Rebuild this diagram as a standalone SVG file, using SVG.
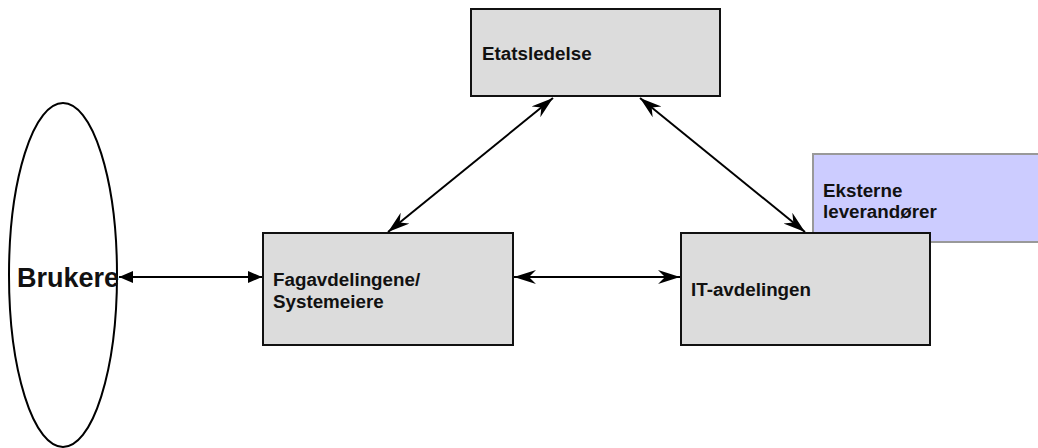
<svg xmlns="http://www.w3.org/2000/svg" width="1038" height="448" viewBox="0 0 1038 448">
  <style>
    .box { fill: #dcdcdc; stroke: #111; stroke-width: 2; }
    .ext { fill: #ccccff; stroke: #999; stroke-width: 2; }
    .lbl { font-family: "Liberation Sans", Arial, sans-serif; font-weight: bold; font-size: 18.8px; fill: #111; }
    .big { font-size: 27px; }
    .edge { stroke: #000; stroke-width: 2; fill: none; }
  </style>
  <defs>
    <marker id="barb" markerUnits="userSpaceOnUse" markerWidth="24" markerHeight="16" refX="22" refY="7" orient="auto-start-reverse">
      <path d="M0,0 L22,7 L0,14 L7,7 z" fill="#000"/>
    </marker>
    <marker id="tri" markerUnits="userSpaceOnUse" markerWidth="16" markerHeight="14" refX="14" refY="6" orient="auto-start-reverse">
      <path d="M0,0 L14,6 L0,12 z" fill="#000"/>
    </marker>
  </defs>

  <g id="eksterne">
    <rect class="ext" x="813" y="154" width="240" height="88"/>
    <text class="lbl" x="823" y="197">Eksterne</text>
    <text class="lbl" x="823" y="218">leverandører</text>
  </g>

  <g id="etatsledelse">
    <rect class="box" x="471" y="9" width="249" height="87"/>
    <text class="lbl" x="482" y="60">Etatsledelse</text>
  </g>

  <g id="fagavdelingene">
    <rect class="box" x="263" y="233" width="250" height="112"/>
    <text class="lbl" x="273" y="286">Fagavdelingene/</text>
    <text class="lbl" x="273" y="308">Systemeiere</text>
  </g>

  <g id="it-avdelingen">
    <rect class="box" x="681" y="233" width="249" height="112"/>
    <text class="lbl" x="691" y="296">IT-avdelingen</text>
  </g>

  <g id="brukere">
    <ellipse cx="63" cy="275" rx="54" ry="172" fill="none" stroke="#000" stroke-width="2"/>
    <text class="lbl big" x="17" y="287">Brukere</text>
  </g>

  <g id="connectors">
    <line class="edge" x1="119" y1="277" x2="262" y2="277" marker-start="url(#tri)" marker-end="url(#tri)"/>
    <line class="edge" x1="514" y1="277" x2="680" y2="277" marker-start="url(#barb)" marker-end="url(#barb)"/>
    <line class="edge" x1="553" y1="98" x2="388" y2="232" marker-start="url(#barb)" marker-end="url(#barb)"/>
    <line class="edge" x1="640" y1="98" x2="805" y2="232" marker-start="url(#barb)" marker-end="url(#barb)"/>
  </g>
</svg>
